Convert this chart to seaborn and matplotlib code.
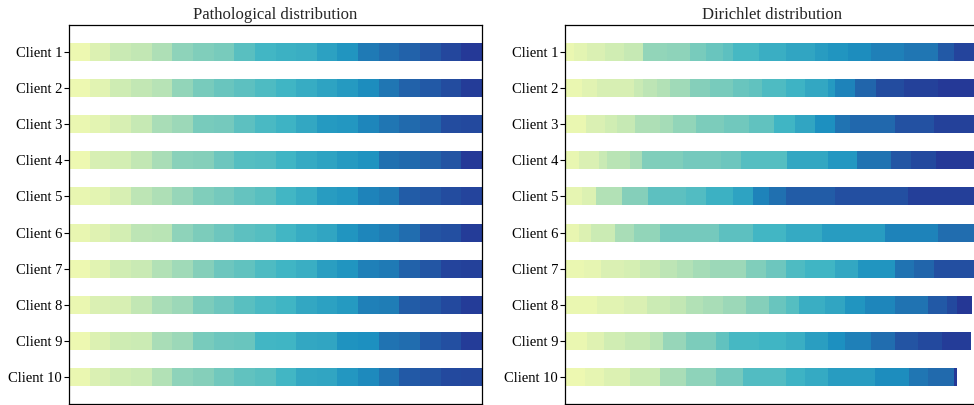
import numpy as np
import pandas as pd
import matplotlib.pyplot as plt
import seaborn as sns

# clients and data (class ids are 0..99, colours follow the class id)
clients = [f'Client {i}' for i in range(1, 11)]

# pathological: 20 classes per client, same number of samples each
samples_per_class = 25
path_classes = [
    [1, 8, 16, 18, 23, 30, 33, 35, 43, 49, 52, 53, 59, 64, 73, 77, 81, 85, 91, 96],
    [1, 6, 14, 18, 21, 29, 35, 39, 42, 46, 50, 54, 58, 62, 67, 74, 81, 84, 89, 95],
    [2, 5, 10, 17, 24, 27, 35, 36, 42, 47, 51, 56, 62, 63, 69, 74, 78, 81, 89, 90],
    [1, 10, 12, 18, 24, 31, 32, 38, 44, 45, 50, 55, 58, 62, 65, 76, 78, 81, 86, 96],
    [3, 5, 10, 19, 23, 28, 33, 36, 40, 43, 49, 54, 61, 63, 70, 73, 83, 85, 89, 92],
    [3, 7, 12, 19, 20, 30, 34, 38, 42, 44, 49, 54, 57, 64, 69, 72, 77, 86, 88, 95],
    [1, 6, 13, 16, 22, 26, 32, 38, 41, 46, 50, 53, 60, 64, 71, 73, 81, 85, 92, 93],
    [2, 9, 10, 18, 24, 27, 34, 38, 43, 47, 50, 56, 59, 62, 71, 72, 83, 85, 90, 95],
    [1, 8, 14, 15, 24, 27, 35, 38, 39, 49, 50, 56, 57, 65, 66, 75, 77, 84, 88, 95],
    [2, 9, 13, 15, 22, 30, 32, 37, 41, 43, 49, 56, 57, 63, 68, 75, 84, 86, 90, 91],
]

# dirichlet: class groups and their sample counts
dir_classes = [
    [2, 5, 9, 13, 17, 29, 30, 35, 39, 42, 48, 53, 57, 61, 64, 67, 71, 74, 84, 92],
    [2, 6, 10, 16, 19, 22, 26, 32, 35, 39, 41, 46, 51, 56, 62, 70, 80, 89, 93, 96],
    [2, 9, 13, 17, 23, 25, 29, 34, 37, 41, 50, 57, 66, 75, 79, 87, 93],
    [3, 9, 16, 20, 24, 33, 36, 38, 44, 56, 63, 75, 85, 90, 96],
    [4, 8, 22, 32, 42, 45, 52, 58, 70, 76, 83, 88, 94],
    [3, 8, 15, 24, 29, 36, 42, 49, 55, 61, 70, 77],
    [2, 4, 9, 11, 16, 19, 22, 25, 27, 33, 38, 46, 50, 56, 64, 75, 80, 88],
    [2, 6, 9, 15, 18, 22, 24, 27, 32, 39, 44, 53, 57, 64, 69, 75, 84, 90, 97],
    [2, 7, 13, 17, 20, 28, 34, 41, 48, 50, 53, 60, 66, 71, 77, 86, 90, 95],
    [1, 4, 8, 15, 24, 30, 36, 45, 51, 55, 61, 67, 74, 78, 97],
]
dir_counts = [
    [11, 16, 22, 22, 23, 29, 28, 20, 20, 12, 32, 32, 36, 16, 24, 28, 40, 40, 20, 30],
    [21, 18, 44, 12, 16, 16, 24, 24, 28, 20, 16, 28, 24, 28, 8, 24, 26, 34, 40, 55],
    [25, 24, 14, 22, 30, 16, 28, 34, 30, 30, 26, 24, 24, 18, 54, 48, 60],
    [17, 24, 10, 28, 14, 50, 46, 24, 56, 50, 34, 42, 24, 30, 60],
    [21, 16, 32, 32, 46, 24, 32, 24, 20, 20, 60, 88, 90],
    [17, 14, 30, 22, 32, 72, 40, 40, 44, 76, 64, 60],
    [23, 20, 28, 20, 24, 20, 20, 20, 44, 24, 24, 24, 36, 28, 44, 24, 24, 60],
    [39, 32, 28, 28, 20, 20, 24, 28, 28, 20, 16, 32, 24, 24, 36, 40, 24, 12, 18],
    [27, 20, 26, 30, 16, 28, 36, 16, 36, 32, 24, 28, 20, 32, 28, 28, 30, 34],
    [24, 23, 32, 36, 32, 36, 32, 52, 24, 28, 56, 42, 22, 32, 3],
]
max_samples = 500


def long_table(class_lists, count_lists):
    rows = []
    for name, cls, cnt in zip(clients, class_lists, count_lists):
        for k, end in zip(cls, np.cumsum(cnt)):
            rows.append({'client': name, 'cls': f'c{k:02d}', 'end': end})
    return pd.DataFrame(rows)


path_df = long_table(path_classes, [[samples_per_class] * len(c) for c in path_classes])
dir_df = long_table(dir_classes, dir_counts)

cmap = plt.get_cmap('YlGnBu')
palette = {f'c{k:02d}': cmap(0.12 + 0.76 * k / 99) for k in range(100)}

sns.set_theme(style='ticks')
plt.rcParams['font.family'] = ['Liberation Serif', 'DejaVu Serif']
plt.rcParams['axes.edgecolor'] = 'black'
plt.rcParams['axes.linewidth'] = 0.9

fig = plt.figure(figsize=(9.74, 4.05), dpi=100)
ax1 = fig.add_axes([69 / 974, 1 / 405, 413 / 974, 379 / 405])
ax2 = fig.add_axes([565 / 974, 1 / 405, 413 / 974, 379 / 405])

for ax, df, title in [(ax1, path_df, 'Pathological distribution'),
                      (ax2, dir_df, 'Dirichlet distribution')]:
    # longest stacks first so the shorter ones sit on top
    order = sorted(df['cls'].unique(), reverse=True)
    sns.barplot(data=df, x='end', y='client', hue='cls', hue_order=order,
                order=clients, palette=palette, dodge=False, width=0.5,
                saturation=1, errorbar=None, legend=False, linewidth=0,
                orient='h', ax=ax)
    ax.set_xlim(0, max_samples)
    ax.set_ylim(9.76, -0.76)
    ax.set_xticks([])
    ax.set_xlabel('')
    ax.set_ylabel('')
    ax.tick_params(axis='y', length=3.5, width=0.8, pad=1.5, labelsize=10.5, colors='black')
    ax.set_title(title, fontsize=12, pad=4.5)

fig.savefig('out.png', dpi=100)
